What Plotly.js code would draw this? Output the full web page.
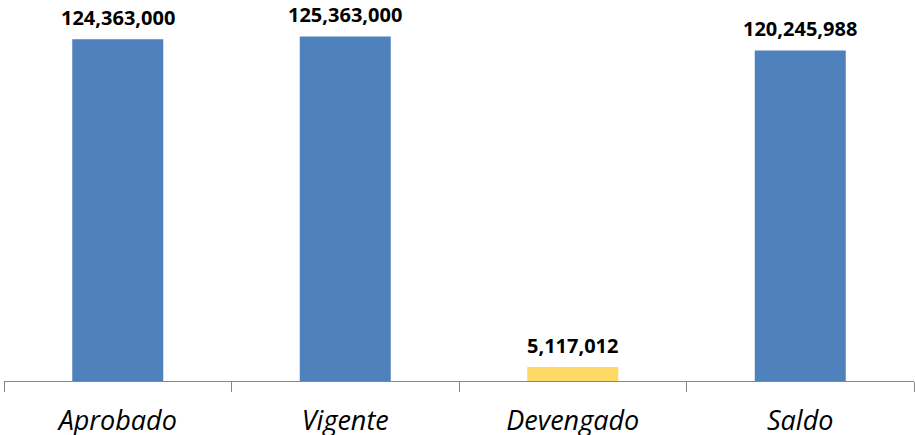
<!DOCTYPE html>
<html>
<head>
<meta charset="utf-8">
<script src="https://cdn.plot.ly/plotly-3.0.1.min.js"></script>
<style>html,body{margin:0;padding:0;background:#fff;}#chart{width:915px;height:435px;}</style>
</head>
<body>
<div id="chart"></div>
<script>
const categories = ["Aprobado", "Vigente", "Devengado", "Saldo"];
const values = [124363000, 125363000, 5117012, 120245988];
const barColors = ["#4F81BD", "#4F81BD", "#FFD966", "#4F81BD"];

const fmt = v => v.toLocaleString("en-US");

const trace = {
  type: "bar",
  x: categories,
  y: values,
  marker: {color: barColors},
  width: 0.4,
  hoverinfo: "none"
};

const annotations = categories.map((c, i) => ({
  x: c, y: values[i], xref: "x", yref: "y",
  text: "<b>" + fmt(values[i]) + "</b>",
  showarrow: false, yanchor: "bottom", yshift: 7, borderpad: 0,
  font: {family: "Open Sans", size: 20, color: "#000"}
}));

const layout = {
  width: 915, height: 435,
  margin: {l: 4, r: 1, t: 0, b: 54},
  paper_bgcolor: "#fff", plot_bgcolor: "#fff",
  showlegend: false,
  bargap: 0.6,
  xaxis: {
    type: "category",
    range: [-0.5, 3.5],
    tickson: "boundaries",
    ticks: "outside", ticklen: 10, tickwidth: 1, tickcolor: "#868686",
    ticklabelstandoff: 16,
    showline: true, linecolor: "#868686", linewidth: 1,
    showgrid: false, zeroline: false,
    tickfont: {family: "Open Sans", size: 27, color: "#000", style: "italic"}
  },
  yaxis: {
    range: [0, 138600000],
    visible: false, showgrid: false, zeroline: false
  },
  annotations: annotations
};

Plotly.newPlot("chart", [trace], layout, {staticPlot: true, displayModeBar: false});
</script>
</body>
</html>
